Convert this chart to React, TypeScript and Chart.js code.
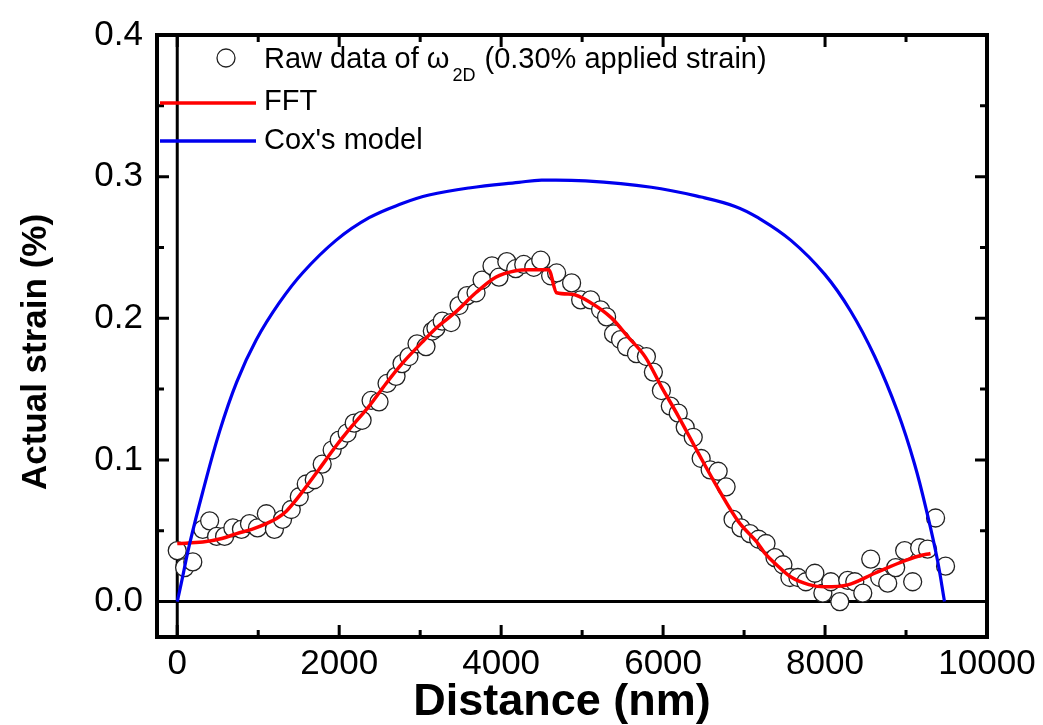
import React, { useEffect, useRef } from "react";
import { Chart, registerables } from "chart.js";

Chart.register(...registerables);

// Raw data of ω2D (0.30% applied strain)
const rawX = [
  0, 91, 192, 315, 400, 486, 585, 687, 793, 892, 991, 1100, 1200, 1300, 1408, 1507, 1593, 1692, 1790, 1913,
  2000, 2098, 2185, 2283, 2394, 2492, 2591, 2702, 2776, 2862, 2961, 3072, 3150, 3195, 3272, 3382, 3480, 3579,
  3690, 3764, 3887, 3973, 4070, 4180, 4279, 4403, 4489, 4611, 4685, 4870, 4982, 5105, 5228, 5302, 5388, 5474,
  5548, 5671, 5794, 5880, 5979, 6089, 6187, 6273, 6372, 6470, 6581, 6680, 6778, 6864, 6962, 7073, 7180, 7271,
  7382, 7480, 7566, 7665, 7763, 7874, 7973, 8071, 8182, 8280, 8367, 8466, 8564, 8675, 8774, 8872, 8983, 9082,
  9168, 9266, 9365, 9488,
];
const rawY = [
  0.036, 0.024, 0.028, 0.051, 0.057, 0.046, 0.046, 0.052, 0.051, 0.055, 0.052, 0.062, 0.051, 0.058, 0.065, 0.074,
  0.083, 0.086, 0.097, 0.107, 0.114, 0.119, 0.126, 0.128, 0.142, 0.141, 0.154, 0.159, 0.168, 0.173, 0.182, 0.18,
  0.191, 0.193, 0.198, 0.197, 0.209, 0.216, 0.218, 0.227, 0.237, 0.229, 0.24, 0.235, 0.238, 0.236, 0.241, 0.23,
  0.232, 0.225, 0.213, 0.213, 0.206, 0.201, 0.189, 0.185, 0.18, 0.175, 0.173, 0.162, 0.149, 0.138, 0.133, 0.123,
  0.116, 0.101, 0.093, 0.092, 0.081, 0.058, 0.052, 0.048, 0.044, 0.041, 0.031, 0.026, 0.017, 0.017, 0.014, 0.02,
  0.006, 0.014, 0.0, 0.015, 0.014, 0.006, 0.03, 0.017, 0.013, 0.024, 0.036, 0.014, 0.038, 0.037, 0.059, 0.025,
];

// FFT
const fftX = [
  0, 315, 550, 734, 920, 1100, 1250, 1350, 1450, 1547, 1754, 1963, 2160, 2370, 2579, 2776, 3022, 3195, 3440,
  3687, 3933, 4180, 4340, 4586, 4685, 4870, 5116, 5362, 5572, 5781, 5978, 6187, 6433, 6680, 6926, 7172, 7259,
  7400, 7579, 7800, 7997, 8280, 8613, 8933, 9150, 9303,
];
const fftY = [
  0.041, 0.042, 0.0445, 0.048, 0.051, 0.055, 0.0595, 0.064, 0.0705, 0.0776, 0.0936, 0.11, 0.124, 0.138, 0.154,
  0.168, 0.183, 0.193, 0.2045, 0.218, 0.229, 0.2336, 0.2343, 0.2343, 0.218, 0.217, 0.2107, 0.2003, 0.1865, 0.1726,
  0.1518, 0.131, 0.105, 0.0797, 0.0568, 0.041, 0.034, 0.026, 0.0173, 0.012, 0.0104, 0.0118, 0.02, 0.0277, 0.032,
  0.034,
];

// Cox's model
const coxX = [
  0, 50, 150, 313, 522, 734, 978, 1261, 1547, 1960, 2370, 2776, 3109, 3601, 4217, 4500, 5042, 5855, 6470, 6889,
  7172, 7579, 7997, 8317, 8613, 8896, 9106, 9266, 9389, 9475,
];
const coxY = [
  0, 0.013, 0.04, 0.077, 0.12, 0.155, 0.185, 0.211, 0.232, 0.255, 0.271, 0.281, 0.287, 0.292, 0.296, 0.2975,
  0.297, 0.2925, 0.2856, 0.279, 0.271, 0.255, 0.231, 0.205, 0.173, 0.134, 0.097, 0.061, 0.029, 0,
];

const xMajorTicks = [0, 2000, 4000, 6000, 8000, 10000];
const xMinorTicks = [1000, 3000, 5000, 7000, 9000];
const yMajorTicks = [0, 0.1, 0.2, 0.3, 0.4];
const yMinorTicks = [0.05, 0.15, 0.25, 0.35];

const legendRaw = "Raw data of ω";
const legendRawSub = "2D";
const legendRawTail = " (0.30% applied strain)";
const legendFFT = "FFT";
const legendCox = "Cox's model";
const xTitle = "Distance (nm)";
const yTitle = "Actual strain (%)";

const FONT = '"Liberation Sans", Arial, sans-serif';

const toPts = (xs: number[], ys: number[]) => xs.map((x, i) => ({ x, y: ys[i] }));

const framePlugin = {
  id: "originFrame",
  beforeDatasetsDraw(chart: any) {
    const { ctx, chartArea: a, scales } = chart;
    const x0 = scales.x.getPixelForValue(0);
    const y0 = scales.y.getPixelForValue(0);
    ctx.save();
    ctx.strokeStyle = "#000";
    ctx.lineWidth = 3;
    ctx.beginPath();
    ctx.moveTo(a.left, y0);
    ctx.lineTo(a.right, y0);
    ctx.moveTo(x0, a.top);
    ctx.lineTo(x0, a.bottom);
    ctx.stroke();
    ctx.restore();
  },
  afterDraw(chart: any) {
    const { ctx, chartArea: a, scales } = chart;
    ctx.save();
    ctx.strokeStyle = "#000";
    ctx.lineWidth = 4;
    ctx.lineJoin = "miter";
    ctx.strokeRect(a.left, a.top, a.right - a.left, a.bottom - a.top);
    const major = 12;
    const minor = 7;
    ctx.lineWidth = 3;
    ctx.beginPath();
    const xt = (v: number, len: number) => {
      const p = scales.x.getPixelForValue(v);
      ctx.moveTo(p, a.bottom);
      ctx.lineTo(p, a.bottom - len);
      ctx.moveTo(p, a.top);
      ctx.lineTo(p, a.top + len);
    };
    const yt = (v: number, len: number) => {
      const p = scales.y.getPixelForValue(v);
      ctx.moveTo(a.left, p);
      ctx.lineTo(a.left + len, p);
      ctx.moveTo(a.right, p);
      ctx.lineTo(a.right - len, p);
    };
    xMajorTicks.forEach((v) => xt(v, major));
    xMinorTicks.forEach((v) => xt(v, minor));
    yMajorTicks.forEach((v) => yt(v, major));
    yMinorTicks.forEach((v) => yt(v, minor));
    ctx.stroke();

    // axis titles
    ctx.fillStyle = "#000";
    ctx.textAlign = "center";
    ctx.textBaseline = "alphabetic";
    ctx.font = `bold 45px ${FONT}`;
    ctx.fillText(xTitle, (a.left + a.right) / 2 - 10, 715);
    ctx.save();
    ctx.translate(36, 352);
    ctx.rotate(-Math.PI / 2);
    ctx.textBaseline = "middle";
    ctx.font = `bold 35px ${FONT}`;
    ctx.fillText(yTitle, 0, 0);
    ctx.restore();

    // legend
    ctx.textAlign = "left";
    ctx.textBaseline = "middle";
    const tx = 264;
    ctx.beginPath();
    ctx.arc(226, 58, 9, 0, Math.PI * 2);
    ctx.fillStyle = "#fff";
    ctx.fill();
    ctx.lineWidth = 1.3;
    ctx.strokeStyle = "#222";
    ctx.stroke();
    ctx.fillStyle = "#000";
    ctx.font = `29px ${FONT}`;
    ctx.fillText(legendRaw, tx, 60);
    const w = ctx.measureText(legendRaw).width;
    ctx.font = `18px ${FONT}`;
    ctx.fillText(legendRawSub, tx + w + 3, 76);
    const w2 = ctx.measureText(legendRawSub).width;
    ctx.font = `29px ${FONT}`;
    ctx.fillText(legendRawTail, tx + w + w2 + 4, 60);

    ctx.lineWidth = 3.5;
    ctx.strokeStyle = "#ff0000";
    ctx.beginPath();
    ctx.moveTo(160, 103);
    ctx.lineTo(256, 103);
    ctx.stroke();
    ctx.fillText(legendFFT, tx, 102);

    ctx.strokeStyle = "#0000ee";
    ctx.beginPath();
    ctx.moveTo(160, 141);
    ctx.lineTo(256, 141);
    ctx.stroke();
    ctx.fillText(legendCox, tx, 141);
    ctx.restore();
  },
};

export default function App() {
  const ref = useRef<HTMLCanvasElement | null>(null);
  useEffect(() => {
    document.body.style.margin = "0";
    const canvas = ref.current!;
    const chart = new Chart(canvas, {
      type: "scatter",
      data: {
        datasets: [
          {
            label: "raw",
            data: toPts(rawX, rawY),
            showLine: false,
            pointRadius: 9,
            pointBorderWidth: 1.3,
            pointBorderColor: "#222",
            pointBackgroundColor: "#fff",
            order: 2,
          },
          {
            label: "FFT",
            data: toPts(fftX, fftY),
            showLine: true,
            borderColor: "#ff0000",
            borderWidth: 3.5,
            pointRadius: 0,
            cubicInterpolationMode: "monotone",
            order: 1,
          },
          {
            label: "Cox",
            data: toPts(coxX, coxY),
            showLine: true,
            borderColor: "#0000ee",
            borderWidth: 3.2,
            pointRadius: 0,
            tension: 0.4,
            order: 0,
          },
        ],
      },
      options: {
        animation: false,
        responsive: false,
        events: [],
        layout: { padding: { left: 0, top: 25, right: 56, bottom: 0 } },
        plugins: { legend: { display: false }, tooltip: { enabled: false } },
        scales: {
          x: {
            type: "linear",
            min: -250,
            max: 10000,
            afterBuildTicks: (s: any) => {
              s.ticks = xMajorTicks.map((v) => ({ value: v }));
            },
            afterFit: (s: any) => {
              s.height = 88;
            },
            grid: { display: false, drawTicks: false },
            border: { display: false },
            ticks: {
              color: "#000",
              font: { family: FONT, size: 35 },
              padding: 6,
              maxRotation: 0,
              autoSkip: false,
              callback: (v: any) => String(v),
            },
            title: { display: false },
          },
          y: {
            type: "linear",
            min: -0.025,
            max: 0.4,
            afterBuildTicks: (s: any) => {
              s.ticks = yMajorTicks.map((v) => ({ value: v }));
            },
            afterFit: (s: any) => {
              s.width = 157;
            },
            grid: { display: false, drawTicks: false },
            border: { display: false },
            ticks: {
              color: "#000",
              font: { family: FONT, size: 35 },
              padding: 14,
              autoSkip: false,
              callback: (v: any) => Number(v).toFixed(1),
            },
            title: { display: false },
          },
        },
      },
      plugins: [framePlugin],
    } as any);
    return () => chart.destroy();
  }, []);
  return (
    <div style={{ position: "absolute", left: 0, top: 0, width: 1043, height: 725, background: "#fff" }}>
      <canvas ref={ref} width={1043} height={725} style={{ width: 1043, height: 725, display: "block" }} />
    </div>
  );
}
